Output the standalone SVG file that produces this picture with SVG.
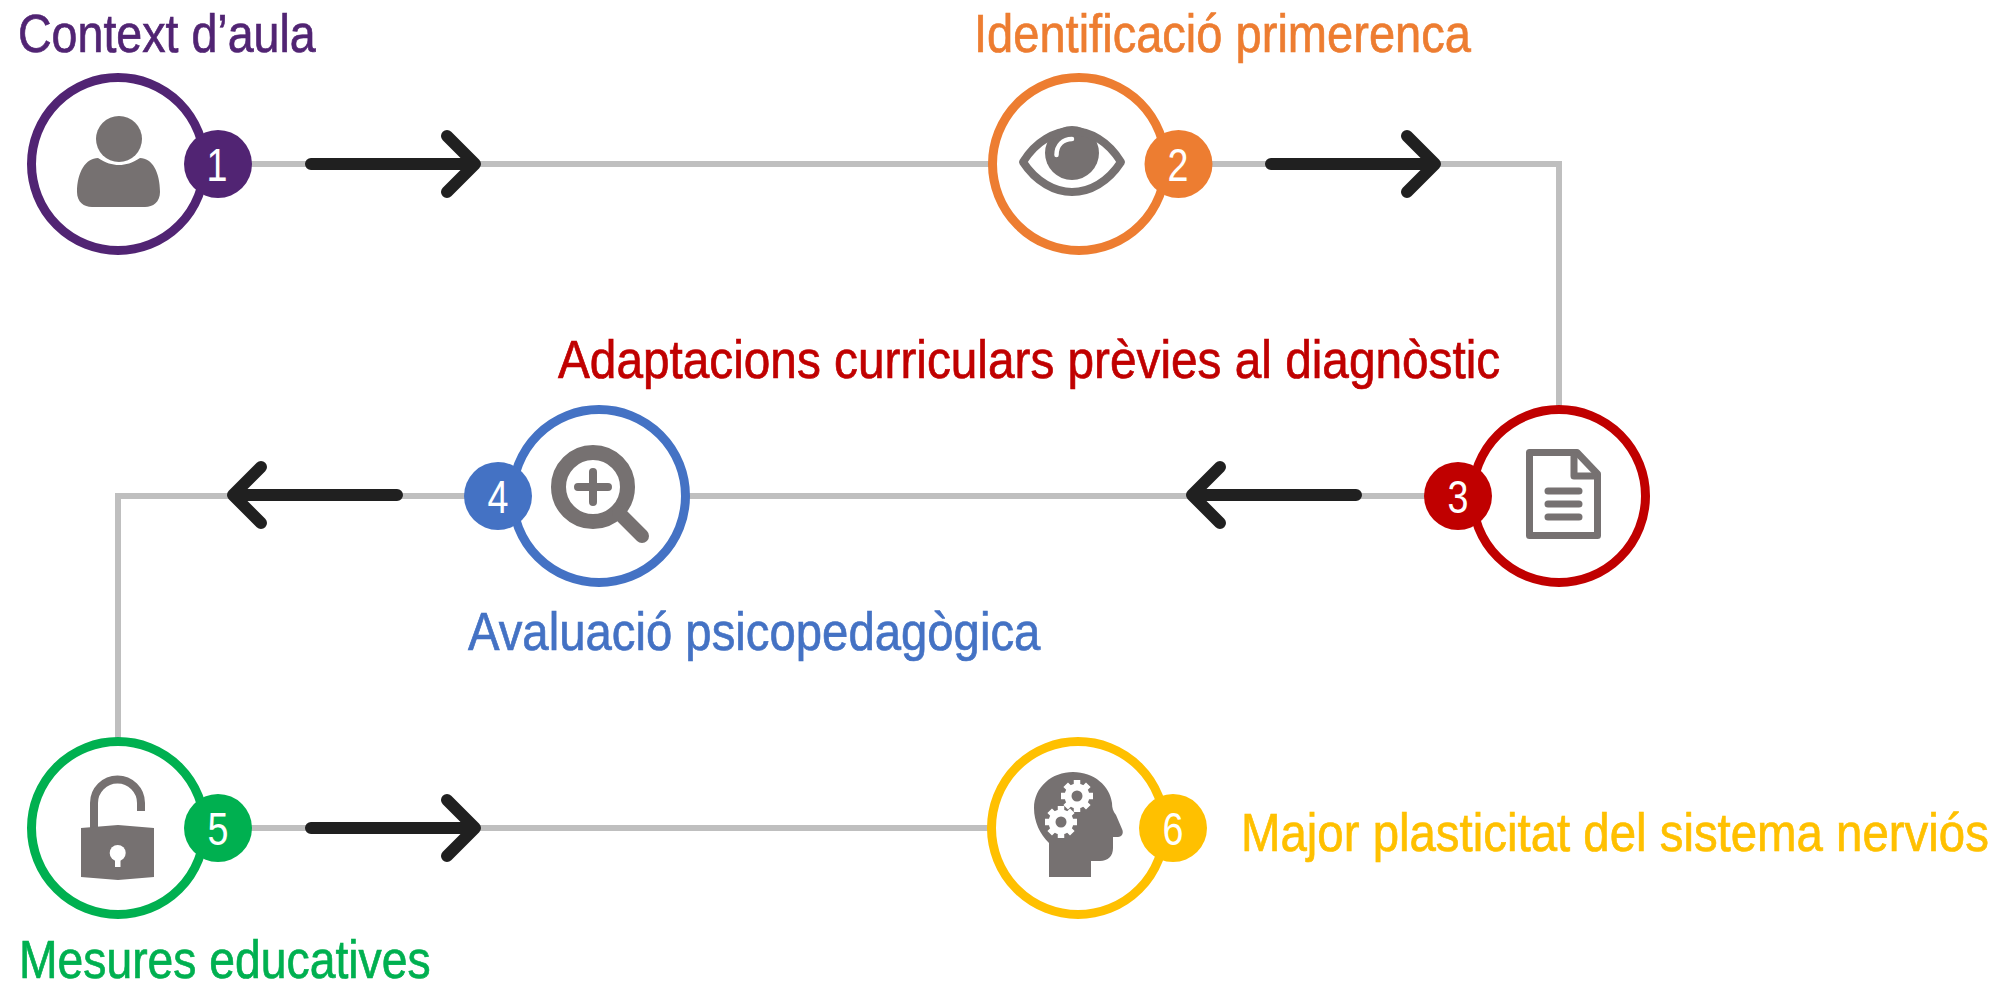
<svg xmlns="http://www.w3.org/2000/svg" xmlns:xlink="http://www.w3.org/1999/xlink" width="1998" height="984" viewBox="0 0 1998 984">
<style>
.ln{fill:none;stroke:#bfbfbf;stroke-width:6}
.ar{fill:none;stroke:#202020;stroke-width:12;stroke-linecap:round;stroke-linejoin:round}
.ring{fill:#fff;stroke-width:9}
.lab{font-family:"Liberation Sans",Arial,sans-serif;font-size:54px;stroke-width:.7px}
.num{font-family:"Liberation Sans",Arial,sans-serif;font-size:46px;fill:#fff;text-anchor:middle}
.ic{fill:#767171}
.ics{fill:none;stroke:#767171}
.purple{fill:#512473;stroke:#512473}.orange{fill:#ed7d31;stroke:#ed7d31}.red{fill:#c00000;stroke:#c00000}.blue{fill:#4472c4;stroke:#4472c4}.green{fill:#00b050;stroke:#00b050}.yellow{fill:#ffc000;stroke:#ffc000}
circle.purple,circle.orange,circle.red,circle.blue,circle.green,circle.yellow{stroke:none}
</style>
<defs>
<g id="gear"><path fill="none" stroke="#fff" stroke-width="6.500" d="M0 -16V16M-16 0H16M-11.300 -11.300L11.300 11.300M-11.300 11.300L11.300 -11.300"/><circle r="12.500" fill="#fff"/><circle r="5.500" fill="#767171"/></g>
</defs>
<rect width="1998" height="984" fill="#fff"/>
<g id="connectors">
<path class="ln" d="M218 164H1079"/>
<path class="ln" d="M1178 164H1559V496"/>
<path class="ln" d="M1559 496H118V828"/>
<path class="ln" d="M218 828H1078"/>
<path class="ar" d="M311 164H475M447 136L475 164L447 192"/>
<path class="ar" d="M1271 164H1435M1407 136L1435 164L1407 192"/>
<path class="ar" d="M1356 495H1192M1220 467L1192 495L1220 523"/>
<path class="ar" d="M397 495H233M261 467L233 495L261 523"/>
<path class="ar" d="M311 828H475M447 800L475 828L447 856"/>
</g>
<g id="node1">
<circle class="ring" cx="118" cy="164" r="86.500" stroke="#512473"/>
<circle class="ic" cx="119" cy="139" r="23"/>
<path class="ic" d="M98 158C106 163 112 165 119 165C126 165 132 163 140 158C152 158 160 172 160 192C160 202 153 207 145 207H92C84 207 77 202 77 192C77 172 86 158 98 158Z"/>
<circle class="purple" cx="218" cy="164" r="34"/>
<text class="num" transform="translate(217 181) scale(.82 1)">1</text>
<text class="lab purple" transform="translate(18 52) scale(.82 1)" textLength="363" lengthAdjust="spacingAndGlyphs">Context d’aula</text>
</g>
<g id="node2">
<circle class="ring" cx="1079" cy="164" r="86.500" stroke="#ed7d31"/>
<circle class="ic" cx="1072" cy="153" r="27"/>
<path class="ics" stroke-width="8" stroke-linejoin="round" d="M1023 162C1036 141 1055 131 1072 131C1090 131 1108 141 1121 162C1108 182 1090 192 1072 192C1055 192 1036 182 1023 162Z"/>
<path fill="none" stroke="#fff" stroke-width="4.500" stroke-linecap="round" d="M1056.500 155C1056.500 145 1063 139 1072 139"/>
<circle class="orange" cx="1178.500" cy="164" r="34"/>
<text class="num" transform="translate(1178 181) scale(.82 1)">2</text>
<text class="lab orange" transform="translate(974 52) scale(.82 1)" textLength="606" lengthAdjust="spacingAndGlyphs">Identificació primerenca</text>
</g>
<g id="node3">
<circle class="ring" cx="1559" cy="496" r="86.500" stroke="#c00000"/>
<path class="ics" stroke-width="7" stroke-linejoin="round" d="M1529.500 452.500H1577L1597.500 474V535.500H1529.500Z"/>
<path class="ics" stroke-width="7" stroke-linejoin="round" d="M1574 452.500V476H1597.500"/>
<path class="ics" stroke-width="7" stroke-linecap="round" d="M1548 491H1579M1548 504H1579M1548 517H1579"/>
<circle class="red" cx="1458" cy="496" r="34"/>
<text class="num" transform="translate(1458 513) scale(.82 1)">3</text>
<text class="lab red" transform="translate(558 378) scale(.82 1)" textLength="1149" lengthAdjust="spacingAndGlyphs">Adaptacions curriculars prèvies al diagnòstic</text>
</g>
<g id="node4">
<circle class="ring" cx="599" cy="496" r="86.500" stroke="#4472c4"/>
<circle class="ics" cx="593" cy="487" r="34.500" stroke-width="15"/>
<path class="ics" stroke-width="8" stroke-linecap="round" d="M578 487H608M593 472V502"/>
<path class="ics" stroke-width="14" stroke-linecap="round" d="M619 513L642 536"/>
<circle class="blue" cx="498" cy="496" r="34"/>
<text class="num" transform="translate(498 513) scale(.82 1)">4</text>
<text class="lab blue" transform="translate(468 650) scale(.82 1)" textLength="698" lengthAdjust="spacingAndGlyphs">Avaluació psicopedagògica</text>
</g>
<g id="node5">
<circle class="ring" cx="118" cy="828" r="86.500" stroke="#00b050"/>
<path class="ics" stroke-width="8" d="M94 828V803A23.500 23.500 0 0 1 141 803V811"/>
<path class="ic" d="M81 828L118 825L154 828V877L118 880L81 877Z"/>
<circle cx="117.700" cy="853" r="8" fill="#fff"/>
<rect x="115" y="855" width="5.500" height="12" fill="#fff"/>
<circle class="green" cx="218" cy="828" r="34"/>
<text class="num" transform="translate(218 845) scale(.82 1)">5</text>
<text class="lab green" transform="translate(19 978) scale(.82 1)" textLength="502" lengthAdjust="spacingAndGlyphs">Mesures educatives</text>
</g>
<g id="node6">
<circle class="ring" cx="1078" cy="828" r="86.500" stroke="#ffc000"/>
<path class="ic" d="M1049 877V843C1040 834 1034 822 1034 808C1034 787 1052 772 1073 772C1094 772 1110 786 1112 803C1112 808 1113 811 1116 815L1122 829C1124 833 1122 837 1118 837H1113V848C1113 856 1108 861 1100 861H1091V877Z"/>
<use xlink:href="#gear" href="#gear" x="1077" y="796"/>
<use xlink:href="#gear" href="#gear" x="1061" y="822"/>
<circle class="yellow" cx="1173" cy="828" r="34"/>
<text class="num" transform="translate(1173 845) scale(.82 1)">6</text>
<text class="lab yellow" transform="translate(1241 851) scale(.82 1)" textLength="912" lengthAdjust="spacingAndGlyphs">Major plasticitat del sistema nerviós</text>
</g>
</svg>
